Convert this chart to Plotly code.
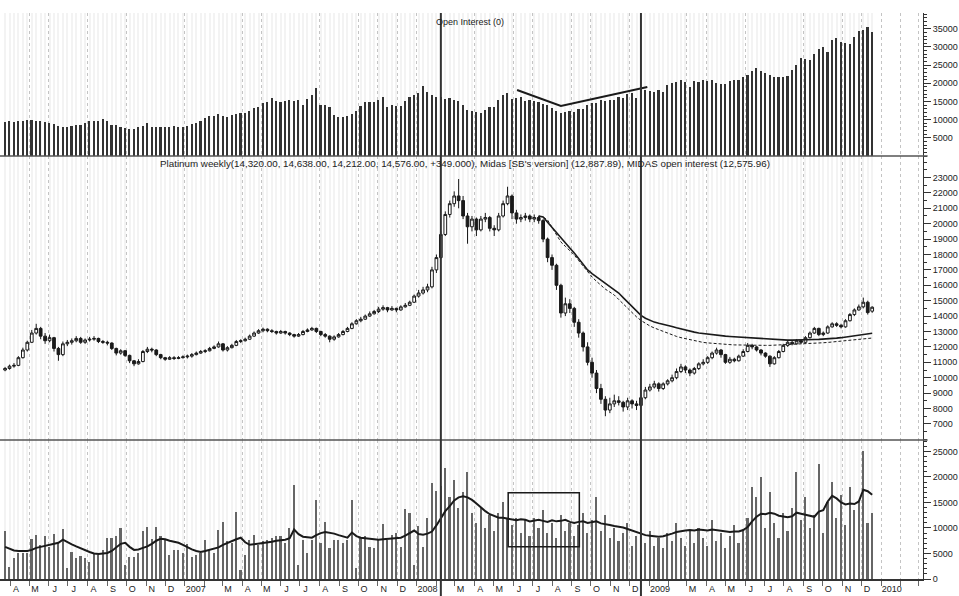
import pandas as pd
import plotly.graph_objects as go

# ---------------- data (weekly bars, Platinum futures) ----------------
first_week = "2006-03-24"

opens = [
    10500, 10600, 10750, 10800, 11300, 11800, 12300, 12900, 13200, 12700, 12400, 12600, 11900, 11500, 12200, 12300, 12400, 12550, 12300, 12450,
    12500, 12550, 12350, 12300, 12250, 11900, 11600, 11750, 11450, 11100, 10900, 11050, 11700, 11850, 11800, 11500, 11300, 11200, 11300, 11250, 11300,
    11350, 11400, 11500, 11600, 11700, 11750, 11900, 12000, 12200, 11800, 11950, 12100, 12350, 12400, 12500, 12700, 12900, 13050, 13150, 13050,
    13000, 12900, 13000, 12900, 12800, 12700, 12800, 13000, 13100, 13200, 13000, 12800, 12700, 12500, 12650, 12800, 13000, 13200, 13500, 13700,
    13800, 14000, 14150, 14300, 14450, 14550, 14400, 14500, 14400, 14600, 14700, 14900,
    15300, 15500, 15700, 15900, 17000, 17800, 19300, 20600, 21300, 21800, 21500, 20500, 19800, 20300, 19600, 20300, 20400, 19700, 19600, 20500,
    21300, 21800, 20700, 20300, 20400, 20500, 20300, 20400, 20200, 19000, 17800, 17300, 16000, 14200, 14800, 14500, 13600, 12900, 12000, 11000,
    10300, 9300, 8600, 7900, 8300, 8500, 8400, 8100, 8500, 8300, 8200, 8700,
    9200, 9400, 9600, 9300, 9600, 9800, 10000, 10400, 10700, 10500, 10300, 10600, 10900, 11000, 11300, 11600, 11800, 11500, 11000, 11200,
    11100, 11400, 11700, 12100, 12000, 11800, 11600, 11400, 10900, 11300, 11700, 12100, 12300, 12200, 12400, 12300, 12600, 12900, 13200, 12800,
    12900, 13300, 13500, 13400, 13300, 13700, 14100, 14400, 14600, 14900, 14320,
]
highs = [
    10700, 10850, 10950, 11400, 11950, 12400, 13100, 13500, 13300, 12900, 12800, 12650, 12000, 12350, 12450, 12550, 12700, 12650, 12550, 12650,
    12700, 12600, 12450, 12400, 12300, 11950, 11850, 11800, 11500, 11150, 11200, 11800, 12000, 11950, 11850, 11550, 11350, 11400, 11400, 11400, 11450,
    11500, 11600, 11700, 11800, 11850, 12000, 12100, 12350, 12250, 12050, 12200, 12450, 12500, 12600, 12800, 13000, 13150, 13250, 13200, 13150,
    13050, 13100, 13050, 12950, 12850, 12900, 13100, 13200, 13300, 13250, 13050, 12900, 12750, 12750, 12900, 13100, 13300, 13600, 13800, 13950,
    14100, 14300, 14400, 14600, 14700, 14600, 14650, 14550, 14700, 14850, 15000, 15400,
    15700, 15900, 16100, 17200, 18000, 19500, 20800, 21500, 22100, 22900, 21800, 20700, 20500, 20400, 20500, 20700, 20500, 19900, 20700, 21500,
    22400, 21900, 20900, 20600, 20700, 20600, 20600, 20500, 20300, 19100, 18000, 17400, 16100, 15200, 15100, 14600, 13800, 13000, 12300, 11300,
    10500, 9600, 8800, 8700, 8900, 8800, 8500, 8700, 8600, 8500, 8900, 9400,
    9600, 9800, 9700, 9700, 9900, 10200, 10600, 10900, 10800, 10600, 10700, 11000, 11200, 11400, 11700, 11950, 11850, 11550, 11350, 11300,
    11500, 11850, 12250, 12200, 12050, 11850, 11650, 11450, 11400, 11800, 12200, 12400, 12400, 12500, 12450, 12700, 13000, 13300, 13250, 13000,
    13400, 13600, 13600, 13500, 13800, 14200, 14500, 14750, 15200, 15000, 14638,
]
lows = [
    10420, 10520, 10650, 10750, 11250, 11700, 12250, 12800, 12500, 12200, 12300, 11700, 11100, 11400, 12050, 12150, 12300, 12200, 12200, 12350,
    12400, 12250, 12200, 12100, 11800, 11450, 11500, 11350, 10950, 10750, 10850, 11000, 11600, 11650, 11400, 11200, 11100, 11150, 11150, 11200, 11250,
    11250, 11300, 11450, 11550, 11600, 11700, 11850, 11950, 11700, 11700, 11900, 12050, 12250, 12350, 12450, 12650, 12850, 12950, 12950, 12900,
    12800, 12850, 12800, 12700, 12600, 12650, 12750, 12950, 13050, 12900, 12700, 12600, 12300, 12400, 12600, 12750, 12950, 13150, 13450, 13600,
    13750, 13950, 14100, 14200, 14350, 14250, 14350, 14250, 14350, 14550, 14650, 14850,
    15200, 15400, 15550, 15800, 16800, 17700, 19200, 20400, 21100, 21000, 20300, 18700, 19500, 19200, 19500, 20100, 19500, 19200, 19500, 20400,
    21200, 20300, 20000, 20100, 20200, 20100, 20100, 20000, 18800, 17500, 17000, 15700, 13900, 14000, 14200, 13300, 12600, 11700, 10800, 10000,
    9000, 8300, 7500, 7700, 8100, 8200, 7800, 7900, 8000, 7900, 8100, 8600,
    9100, 9300, 9100, 9200, 9500, 9700, 9900, 10300, 10300, 10100, 10200, 10500, 10800, 10900, 11200, 11500, 11300, 10900, 10900, 11000,
    11050, 11350, 11650, 11850, 11700, 11450, 11300, 10700, 10850, 11250, 11650, 12000, 12100, 12150, 12200, 12250, 12550, 12850, 12700, 12700,
    12850, 13250, 13300, 13200, 13250, 13650, 14000, 14350, 14500, 14100, 14212,
]
closes = [
    10600, 10750, 10800, 11300, 11800, 12300, 12900, 13200, 12700, 12400, 12600, 11900, 11500, 12200, 12300, 12400, 12550, 12300, 12450, 12500,
    12550, 12350, 12300, 12250, 11900, 11600, 11750, 11450, 11100, 10900, 11050, 11700, 11850, 11800, 11500, 11300, 11200, 11300, 11250, 11300, 11350,
    11400, 11500, 11600, 11700, 11750, 11900, 12000, 12200, 11800, 11950, 12100, 12350, 12400, 12500, 12700, 12900, 13050, 13150, 13050, 13000,
    12900, 13000, 12900, 12800, 12700, 12800, 13000, 13100, 13200, 13000, 12800, 12700, 12500, 12650, 12800, 13000, 13200, 13500, 13700, 13800,
    14000, 14150, 14300, 14450, 14550, 14400, 14500, 14400, 14600, 14700, 14900, 15300,
    15500, 15700, 15900, 17000, 17800, 19300, 20600, 21300, 21800, 21500, 20500, 19800, 20300, 19600, 20300, 20400, 19700, 19600, 20500, 21300,
    21800, 20700, 20300, 20400, 20500, 20300, 20400, 20200, 19000, 17800, 17300, 16000, 14200, 14800, 14500, 13600, 12900, 12000, 11000, 10300,
    9300, 8600, 7900, 8300, 8500, 8400, 8100, 8500, 8300, 8200, 8700, 9200,
    9400, 9600, 9300, 9600, 9800, 10000, 10400, 10700, 10500, 10300, 10600, 10900, 11000, 11300, 11600, 11800, 11500, 11000, 11200, 11100,
    11400, 11700, 12100, 12000, 11800, 11600, 11400, 10900, 11300, 11700, 12100, 12300, 12200, 12400, 12300, 12600, 12900, 13200, 12800, 12900,
    13300, 13500, 13400, 13300, 13700, 14100, 14400, 14600, 14900, 14227, 14576,
]
open_interest = [
    9400, 9500, 9400, 9700, 9600, 9900, 9800, 9500, 9600, 9300, 9000,
    8700, 8200, 7900, 7900, 8300, 8600, 8500, 9000,
    9700, 9700, 9600, 10200, 9500,
    8400, 8400, 7900, 7600, 7500, 7500, 7900, 8200, 9000,
    8000, 8100, 8000, 8000, 8100, 8300, 7900, 8000, 8300, 8700,
    9200, 9700, 10400, 10900, 10900, 11600,
    11000, 10800, 11300, 11500, 11800, 11900,
    12400, 13100, 13500, 14500, 14900,
    15850,
    15000, 14900, 15100, 15300, 15200, 15300,
    14100,
    15600, 16800, 18600,
    14100, 14100, 13500,
    11200, 10700, 10600, 10900,
    11600, 12500, 13700, 14800, 14900, 14900, 15300,
    16100,
    13600, 13900, 13700, 13800,
    15000, 16300, 16700, 17200, 19200,
    17600, 16800, 16300,
    16300, 15800, 16000, 15300, 15200, 14000, 12700, 12400, 12000, 11800,
    12700, 13400, 13500, 15300, 16800, 17300, 15600, 15900, 16100, 15200, 15500, 15000, 14800, 14400, 14000, 13300, 12400, 11800,
    12200, 12300, 12100, 12900, 13000, 14000, 14500, 14700, 15300, 15000, 15500, 15400, 16100, 16000, 17100, 17300, 15900,
    18400, 18200, 17900, 17600, 18100, 17600, 19500, 20000, 20400, 20900, 20300, 19000, 20600, 20300, 21000, 20600, 21000, 20200,
    19900, 19800, 20600, 20800, 21000, 21800, 22300, 23500, 24200, 23400, 22900, 22300, 21800, 21700, 21800, 21900, 23800, 25000,
    26900, 26700, 26400, 28200, 29400, 30000, 28700, 31900, 32400, 31300, 31000, 30900, 32800, 34300, 34600, 35500, 34000,
]
volume = [
    9330, 2430, 4070, 5060, 5060, 5060, 7810, 8670, 6700, 8470,
    6370, 8860, 7030, 9780, 2100, 5380, 4070, 4530, 4070, 3410,
    5060, 4730, 5710, 8010, 8010, 8340, 9980, 2760, 4400, 4400,
    5060, 9330, 10180, 7810, 10180, 8340, 7680, 4730, 5710, 5710,
    5060, 6890, 4400, 4730, 5060, 7680, 5710, 5060, 9650, 11100,
    7360, 7030, 13070, 1770, 4730, 7680, 8670, 6700, 7360, 7680,
    8010, 8340, 8340, 7030, 9980, 18520, 2760, 7680, 5060, 7680,
    15430, 7030, 11100, 6040, 7680, 7680, 7030, 7680, 15560, 2100,
    8010, 8340, 6370, 6040, 7680, 10840, 7680, 8670, 9000, 6370,
    13720, 12940, 2760, 10440, 6370, 11950, 18850, 17200, 18190, 21800,
    16000, 19500, 14000, 17000, 21000, 13000, 11000, 14000, 10000, 12500,
    9500, 13000, 15000, 12000, 10500, 12000, 9000, 11500, 8500, 12000,
    10000, 13500, 9000, 11000, 8000, 12500, 9500, 11000, 8500, 10500,
    13000, 9000, 11500, 16000, 9500, 12500, 8000, 10000, 7500, 9000,
    11000, 6500, 8500, 5000, 7000, 9500, 6500, 8000, 6000, 9000,
    7500, 11000, 8000, 6500, 9500, 7000, 10000, 8000, 6500, 11500,
    7500, 9000, 6000, 8500, 10500, 7000, 9500, 12000, 18000, 16000,
    20000, 10000, 17000, 11000, 8000, 13000, 9500, 14000, 21000, 11500,
    16000, 10000, 12500, 22500, 9000, 15000, 19000, 12000, 16500, 10500,
    18000, 13500, 15000, 25000, 11000, 13000,
]
volume_avg = [
    6300, 6000, 5600, 5500, 5500, 5500, 5700, 6100, 6300, 6500,
    6700, 6900, 7100, 7700, 7200, 6800, 6400, 6000, 5700, 5300,
    5000, 4900, 5000, 5100, 5500, 6200, 6900, 7100, 6300, 5700,
    5800, 6100, 6400, 6900, 7500, 7900, 7800, 7500, 7300, 7100,
    6700, 6200, 5800, 5500, 5300, 5500, 5700, 5900, 6200, 6700,
    7100, 7400, 7800, 8100, 7200, 6700, 6800, 6900, 7000, 7100,
    7300, 7500, 7600, 7700, 8000, 9700, 8800, 8300, 8200, 8100,
    8600, 9000, 9200, 9100, 8900, 8600, 8300, 8100, 9100, 8400,
    8100, 8000, 7800, 7700, 7700, 7800, 7900, 8000, 8100, 8100,
    8500, 9000, 9500, 8800, 8700, 8900, 9300, 10500, 12000, 13300,
    14300, 15400, 16000, 16200, 16000, 15500, 14800, 14000, 13300, 12700,
    12300, 12000, 12000, 11800, 11700, 11500, 11700, 11600, 11300, 11500,
    11600, 11400, 11200, 11500, 11300, 11400, 11600, 11200, 11000, 11200,
    11300, 11000, 11100, 11300, 10900, 10800, 10600, 10400, 10300, 10100,
    9800, 9500, 9200, 8800, 8600, 8500, 8400, 8300, 8400, 8600,
    8900, 9200, 9400, 9500, 9600, 9500, 9700, 9600, 9500, 9700,
    9600, 9500, 9300, 9200, 9300, 9300, 9600, 10200, 11300, 12200,
    12800, 12700, 13000, 12800, 12400, 12300, 12100, 12300, 13000, 12800,
    12600, 12300, 12200, 13200, 13500, 15200, 16300, 15800, 15000, 14600,
    14800, 14700, 15200, 17500, 17200, 16500,
]
midas_start = 120  # first week of the two MIDAS curves (July 2008 top)
midas_sb = [
    20500, 20440, 20100, 19750, 19400, 19050, 18750, 18420, 18100, 17720,
    17350, 17000, 16760, 16550, 16360, 16140, 15920, 15710, 15500, 15200,
    14900, 14590, 14300, 14050, 13860, 13720, 13610, 13530, 13470, 13420,
    13330, 13240, 13160, 13090, 13020, 12960, 12900, 12860, 12820, 12790,
    12760, 12730, 12700, 12680, 12660, 12640, 12620, 12600, 12580, 12560,
    12540, 12520, 12500, 12470, 12450, 12440, 12440, 12440, 12440, 12450,
    12460, 12470, 12480, 12490, 12500, 12510, 12540, 12570, 12600, 12640,
    12690, 12730, 12770, 12820, 12850, 12888,
]
midas_oi = [
    20500, 20420, 20240, 19780, 19300, 18810, 18530, 18250, 17970, 17600,
    17240, 16890, 16540, 16260, 15980, 15750, 15560, 15370, 15080, 14790,
    14490, 14200, 13950, 13720, 13510, 13360, 13230, 13110, 12990, 12880,
    12770, 12680, 12600, 12530, 12450, 12380, 12320, 12290, 12260, 12230,
    12200, 12180, 12160, 12150, 12130, 12120, 12110, 12100, 12100, 12100,
    12100, 12100, 12100, 12110, 12120, 12130, 12140, 12150, 12170, 12190,
    12200, 12220, 12240, 12250, 12270, 12290, 12320, 12350, 12370, 12400,
    12430, 12460, 12490, 12520, 12550, 12576,
]
# hand-drawn annotations
marker_dates = ["2008-02-08", "2008-12-19"]
oi_trend_dates = ["2008-06-07", "2008-08-15", "2008-12-29"]
oi_trend_values = [18160, 13760, 18990]
vol_box_dates = ["2008-05-24", "2008-09-13"]
vol_box_values = [6300, 16900]

axis_labels = ["A", "M", "J", "J", "A", "S", "O", "N", "D",
               "2007", "", "M", "A", "M", "J", "J", "A", "S", "O", "N", "D",
               "2008", "", "M", "A", "M", "J", "J", "A", "S", "O", "N", "D",
               "2009", "", "M", "A", "M", "J", "J", "A", "S", "O", "N", "D",
               "2010"]
oi_ticks = [5000, 10000, 15000, 20000, 25000, 30000, 35000]
price_ticks = [7000, 8000, 9000, 10000, 11000, 12000, 13000, 14000, 15000, 16000,
               17000, 18000, 19000, 20000, 21000, 22000, 23000]
vol_ticks = [0, 5000, 10000, 15000, 20000, 25000]

title_oi = "Open Interest (0)"
title_price = ("Platinum weekly(14,320.00, 14,638.00, 14,212.00, 14,576.00, +349.000), "
               "Midas [SB's version] (12,887.89), MIDAS open interest (12,575.96)")

n = len(closes)
for arr in (opens, highs, lows, open_interest, volume, volume_avg):
    assert len(arr) == n, len(arr)
assert len(midas_sb) == n - midas_start and len(midas_oi) == n - midas_start

dates = pd.date_range(first_week, periods=n, freq="7D")
midas_dates = dates[midas_start:]
month_starts = pd.date_range("2006-04-01", periods=len(axis_labels), freq="MS")
label_pos = [m + pd.Timedelta(days=(17 if len(t) == 4 else 9))
             for m, t in zip(month_starts, axis_labels) if t]
label_txt = [t for t in axis_labels if t]

# ---------------- figure ----------------
INK = "#1a1a1a"
DAY_MS = 86400000
bar_w = 2.6 * DAY_MS
stripe_w = 1.6 * DAY_MS
oi_range = [0, 39350]
price_range = [5955, 24396]
vol_range = [0, 27250]

fig = go.Figure()
# faint per-week background hairlines in each panel
for ax, rng in (("y", oi_range), ("y2", price_range), ("y3", vol_range)):
    fig.add_trace(go.Bar(x=dates, y=[rng[1] - rng[0]] * n, base=rng[0], yaxis=ax, width=stripe_w,
                         marker=dict(color="#f3f3f3", line=dict(width=0)), hoverinfo="skip"))

fig.add_trace(go.Bar(x=dates, y=open_interest, yaxis="y", width=bar_w,
                     marker=dict(color="#333333", line=dict(width=0)), hoverinfo="skip"))
fig.add_trace(go.Scatter(x=oi_trend_dates, y=oi_trend_values, yaxis="y", mode="lines",
                         line=dict(color=INK, width=2)))
fig.add_trace(go.Candlestick(x=dates, open=opens, high=highs, low=lows, close=closes, yaxis="y2",
                             whiskerwidth=0,
                             increasing=dict(line=dict(color=INK, width=1), fillcolor="white"),
                             decreasing=dict(line=dict(color=INK, width=1), fillcolor=INK)))
fig.add_trace(go.Scatter(x=midas_dates, y=midas_oi, yaxis="y2", mode="lines",
                         line=dict(color=INK, width=1, dash="3px,2px")))
fig.add_trace(go.Scatter(x=midas_dates, y=midas_sb, yaxis="y2", mode="lines",
                         line=dict(color=INK, width=1.6)))
fig.add_trace(go.Bar(x=dates, y=volume, yaxis="y3", width=bar_w,
                     marker=dict(color="#666666", line=dict(width=0)), hoverinfo="skip"))
fig.add_trace(go.Scatter(x=dates, y=volume_avg, yaxis="y3", mode="lines",
                         line=dict(color=INK, width=2)))

top_lo, mid_lo = 0.74735, 0.24558
yax_common = dict(side="right", anchor="x", showgrid=False, zeroline=False, automargin=False,
                  showline=True, linecolor="#333", linewidth=1,
                  ticks="outside", ticklen=7, tickcolor="#333", tickmode="array",
                  tickformat="d", tickfont=dict(size=9, color="#222"))

fig.update_layout(
    template="none",
    width=959, height=596,
    margin=dict(l=0, r=36, t=13, b=17, autoexpand=False),
    paper_bgcolor="white", plot_bgcolor="white",
    showlegend=False, barmode="overlay", bargap=0, boxgap=0.12,
    font=dict(family="Liberation Sans, Arial, sans-serif", size=9, color="#222"),
    xaxis=dict(type="date", range=["2006-03-16", "2010-03-08"], anchor="y3", domain=[0, 1],
               automargin=False,
               rangeslider=dict(visible=False), showgrid=False, zeroline=False,
               tickmode="array", tickvals=label_pos, ticktext=label_txt, ticks="",
               tickfont=dict(size=9, color="#222"),
               showline=True, linecolor="#333", linewidth=1.5,
               minor=dict(tickmode="linear", tick0="2006-04-01", dtick="M1",
                          showgrid=True, gridcolor="#c4c4c4", griddash="dot", gridwidth=1,
                          ticks="outside", ticklen=5, tickcolor="#666")),
    yaxis=dict(domain=[top_lo, 1], range=oi_range, tickvals=oi_ticks,
               minor=dict(tickmode="linear", tick0=0, dtick=1000, ticks="outside", ticklen=3,
                          tickcolor="#333"), **yax_common),
    yaxis2=dict(domain=[mid_lo, top_lo], range=price_range, tickvals=price_ticks,
                minor=dict(tickmode="linear", tick0=0, dtick=500, ticks="outside", ticklen=3,
                           tickcolor="#333"), **yax_common),
    yaxis3=dict(domain=[0, mid_lo], range=vol_range, tickvals=vol_ticks,
                minor=dict(tickmode="linear", tick0=0, dtick=1000, ticks="outside", ticklen=3,
                           tickcolor="#333"), **yax_common),
)

shapes = []
for yb in (top_lo, mid_lo):
    shapes.append(dict(type="line", xref="paper", yref="paper", x0=0, x1=1.005, y0=yb, y1=yb,
                       line=dict(color="#555", width=1.5)))
for d in marker_dates:
    shapes.append(dict(type="line", xref="x", yref="paper", x0=d, x1=d, y0=-0.03, y1=1,
                       line=dict(color="#333", width=2)))
shapes.append(dict(type="rect", xref="x", yref="y3", x0=vol_box_dates[0], x1=vol_box_dates[1],
                   y0=vol_box_values[0], y1=vol_box_values[1], line=dict(color=INK, width=1.5)))
fig.update_layout(shapes=shapes)

fig.add_annotation(text=title_oi, xref="paper", yref="paper", x=0.509, y=0.984, yanchor="middle",
                   showarrow=False, font=dict(size=9, color="#222"))
fig.add_annotation(text=title_price, xref="paper", yref="paper", x=0.504, y=0.734, yanchor="middle",
                   showarrow=False, font=dict(size=9.8, color="#222"))

fig.write_html("out.html", config={"displayModeBar": False},
               post_script="document.body.style.margin='0';document.body.style.overflow='hidden';")
